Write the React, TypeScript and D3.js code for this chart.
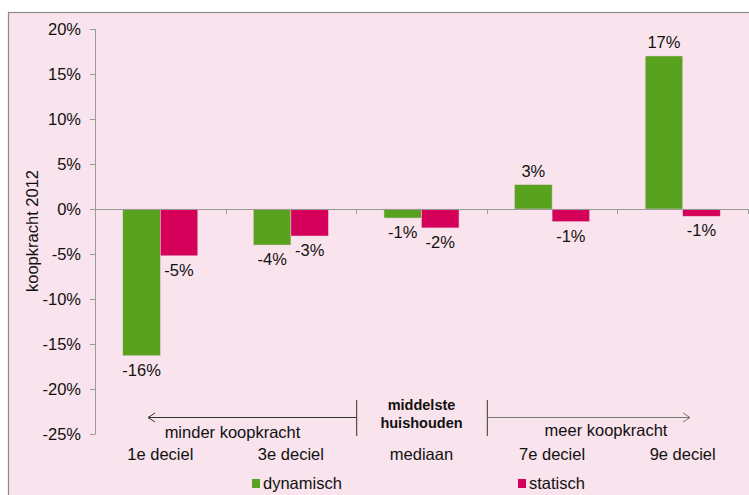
import React from "react";
import * as d3 from "d3";

const categories = ["1e deciel", "3e deciel", "mediaan", "7e deciel", "9e deciel"];
const dynamisch = [-16.3, -4.0, -1.0, 2.7, 17.0];
const statisch = [-5.2, -3.0, -2.1, -1.4, -0.8];
const dynLabels = ["-16%", "-4%", "-1%", "3%", "17%"];
const statLabels = ["-5%", "-3%", "-2%", "-1%", "-1%"];
const yTicks = [20, 15, 10, 5, 0, -5, -10, -15, -20, -25];
const seriesNames = ["dynamisch", "statisch"];

const W = 749, H = 495;
const GREEN = "#58A21E";
const PINK = "#D4005A";
const FONT = "'Liberation Sans', Arial, sans-serif";
const FS = 16.5;

export default function App() {
  const y = d3.scaleLinear().domain([-25, 20]).range([434, 29]);
  const x = d3.scaleBand().domain(categories).range([95, 748]).paddingInner(0).paddingOuter(0);
  const bw = x.bandwidth();
  const barW = bw * 0.287;
  const series = [dynamisch, statisch];
  const labels = [dynLabels, statLabels];
  const colors = [GREEN, PINK];
  const boundaries = d3.range(categories.length + 1).map((i) => 95 + i * bw);
  const midX = (boundaries[2] + boundaries[3]) / 2;

  return (
    <div style={{ position: "fixed", left: 0, top: 0 }}>
      <svg width={W} height={H} style={{ display: "block", fontFamily: FONT }}>
        <rect x={0} y={0} width={W} height={H} fill="#fff" />
        <rect x={8.5} y={12.5} width={800} height={600} fill="#F9E3EC" stroke="#8c8c8c" strokeWidth={1.2} />
        {/* y axis */}
        <line x1={95.5} x2={95.5} y1={y(20)} y2={y(-25)} stroke="#999" />
        {yTicks.map((t) => (
          <g key={t}>
            <line x1={90} x2={95.5} y1={Math.round(y(t)) + 0.5} y2={Math.round(y(t)) + 0.5} stroke="#999" />
            <text x={81} y={y(t)} dy="0.35em" textAnchor="end" fontSize={FS} fill="#111">{t + "%"}</text>
          </g>
        ))}
        <text transform={`translate(38,${231}) rotate(-90)`} textAnchor="middle" fontSize={FS} fill="#111">koopkracht 2012</text>
        {/* bars */}
        {series.map((s, si) =>
          s.map((v, i) => {
            const cx = (x(categories[i]) as number) + bw / 2;
            const bx = si === 0 ? cx - barW : cx;
            const top = Math.min(y(v), y(0));
            const h = Math.abs(y(v) - y(0));
            return (
              <g key={si + "-" + i}>
                <rect x={bx} y={top} width={barW} height={h} fill={colors[si]} stroke="#e8c7d3" strokeWidth={0.5} />
                <text x={bx + barW / 2} y={v >= 0 ? y(v) - 8 : y(v) + 20} textAnchor="middle" fontSize={FS} fill="#111">{labels[si][i]}</text>
              </g>
            );
          })
        )}
        {/* zero axis */}
        <line x1={95} x2={748} y1={Math.round(y(0)) + 0.5} y2={Math.round(y(0)) + 0.5} stroke="#999" />
        {boundaries.map((b, i) => (
          <line key={i} x1={Math.round(b) + 0.5} x2={Math.round(b) + 0.5} y1={y(0)} y2={y(0) + 5} stroke="#999" />
        ))}
        {/* category labels */}
        {categories.map((c) => (
          <text key={c} x={(x(c) as number) + bw / 2} y={460} textAnchor="middle" fontSize={FS} fill="#111">{c}</text>
        ))}
        {/* annotations */}
        <line x1={148} x2={boundaries[2]} y1={417.5} y2={417.5} stroke="#333" />
        <path d="M155,413 L148,417.5 L155,422" fill="none" stroke="#333" />
        <line x1={boundaries[2] + 0.5} x2={boundaries[2] + 0.5} y1={400} y2={436} stroke="#333" />
        <text x={232.5} y={438} textAnchor="middle" fontSize={FS} fill="#111">minder koopkracht</text>
        <text x={midX} y={410} textAnchor="middle" fontSize={14.5} fontWeight="bold" fill="#111">middelste</text>
        <text x={midX} y={428} textAnchor="middle" fontSize={14.5} fontWeight="bold" fill="#111">huishouden</text>
        <line x1={boundaries[3] + 0.5} x2={boundaries[3] + 0.5} y1={400} y2={436} stroke="#333" />
        <line x1={boundaries[3]} x2={690} y1={417.5} y2={417.5} stroke="#777" />
        <path d="M683,413 L690,417.5 L683,422" fill="none" stroke="#777" />
        <text x={606} y={436} textAnchor="middle" fontSize={FS} fill="#111">meer koopkracht</text>
        {/* legend */}
        {seriesNames.map((n, i) => {
          const lx = i === 0 ? 252 : 518;
          return (
            <g key={n}>
              <rect x={lx} y={479} width={8} height={9} fill={colors[i]} />
              <text x={lx + 11} y={489} fontSize={FS} fill="#111">{n}</text>
            </g>
          );
        })}
      </svg>
    </div>
  );
}
